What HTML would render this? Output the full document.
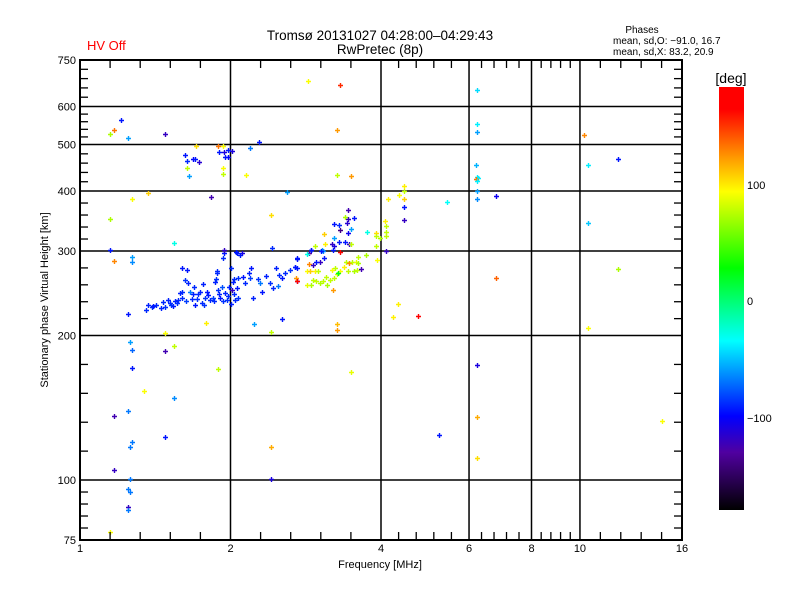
<!DOCTYPE html>
<html><head><meta charset="utf-8"><style>
html,body{margin:0;padding:0;background:#fff;}
svg{display:block;font-family:"Liberation Sans","DejaVu Sans",sans-serif;}
</style></head><body>
<svg id="chart" width="800" height="600" viewBox="0 0 800 600" xmlns="http://www.w3.org/2000/svg">
<rect x="0" y="0" width="800" height="600" fill="#fff"/>
<text x="87" y="50" font-size="13" fill="#ff0000">HV Off</text>
<text x="380" y="40" font-size="13.5" text-anchor="middle">Tromsø 20131027 04:28:00–04:29:43</text>
<text x="380" y="54" font-size="13.5" text-anchor="middle">RwPretec (8p)</text>
<text x="642" y="33" font-size="10" text-anchor="middle">Phases</text>
<text x="613" y="44" font-size="10">mean, sd,O: −91.0, 16.7</text>
<text x="613" y="55" font-size="10">mean, sd,X:  83.2, 20.9</text>
<g id="grid"></g>
<g id="marks"></g>
<g id="frame"></g>
<text x="380" y="568" font-size="11" text-anchor="middle">Frequency [MHz]</text>
<text transform="translate(48,300) rotate(-90)" font-size="11" text-anchor="middle">Stationary phase Virtual Height [km]</text>
<defs><linearGradient id="cbar" x1="0" y1="0" x2="0" y2="1">
<stop offset="0" stop-color="#ff0000"/><stop offset="0.0525" stop-color="#ff0000"/>
<stop offset="0.172" stop-color="#ffa000"/><stop offset="0.247" stop-color="#ffff00"/>
<stop offset="0.428" stop-color="#00ff00"/><stop offset="0.6" stop-color="#00ffff"/>
<stop offset="0.778" stop-color="#0000ff"/><stop offset="0.864" stop-color="#5000a0"/>
<stop offset="1" stop-color="#000000"/></linearGradient></defs>
<rect x="719" y="87" width="25" height="423" fill="url(#cbar)"/>
<text x="731" y="83" font-size="14" text-anchor="middle">[deg]</text>
<text x="747" y="189" font-size="11">100</text>
<text x="747" y="305" font-size="11">0</text>
<text x="747" y="422" font-size="11">−100</text>
</svg>
<script>
const xMajors = [1, 2, 4, 6, 8, 10, 16];
const xTickLabels = ["1", "2", "4", "6", "8", "10", "16"];
const yMajors = [75, 100, 200, 300, 400, 500, 600, 750];
const yTickLabels = ["75", "100", "200", "300", "400", "500", "600", "750"];
const freq = [
1.355,1.368,1.393,1.40,1.465,1.48,1.50,1.513,1.535,1.56,1.57,1.585,1.60,1.62,1.645,1.66,1.675,1.70,1.715,1.74,1.75,1.78,1.795,1.82,1.845,1.86,1.88,1.89,1.906,1.925,1.93,1.95,1.97,2.0,2.01,2.02,2.04,2.06,2.07,2.11,2.14,2.19,2.22,2.29,2.31,2.40,2.43,2.47,2.49,2.53,2.57,2.63,2.69,2.72,2.72,2.42,2.06,
1.6,1.64,1.88,1.94,1.94,2.05,2.09,2.2,
1.42,1.45,1.52,1.55,1.6,1.63,1.68,1.72,1.77,1.8,1.85,1.9,1.93,1.98,2.0,2.03,2.07,1.99,2.03,2.12,2.18,2.27,2.36,2.5,1.87,1.76,1.69,
3.44,3.39,3.53,3.44,3.3,3.22,3.42,3.48,3.31,3.44,3.08,3.22,3.3,3.19,3.39,3.45,3.48,3.09,2.95,3.22,3.2,3.31,3.05,3.06,2.9,3.75,3.9,3.9,3.9,4.07,4.09,4.09,4.09,4.13,4.35,3.98,4.09,3.93,3.74,
2.87,2.85,2.9,3.03,3.08,3.02,2.96,2.87,2.92,2.72,2.69,2.72,2.71,2.72,2.85,2.89,2.95,2.99,2.92,2.97,2.9,2.84,3.06,3.02,3.1,3.19,3.24,3.22,3.26,3.31,3.38,3.41,3.45,3.5,3.57,3.6,3.6,3.43,3.53,3.58,3.65,3.28,3.2,3.12,3.16,
2.86,3.31,1.21,1.17,1.15,1.25,1.48,3.27,2.28,1.71,1.89,1.93,1.9,1.94,2.01,1.98,1.95,1.98,2.19,1.62,1.64,1.68,1.70,1.73,1.64,1.65,1.93,1.93,2.15,3.27,3.48,1.27,1.37,1.83,2.6,1.148,1.54,2.41,1.148,1.17,1.27,1.27,
1.25,1.785,1.48,2.23,2.54,2.41,3.27,3.27,4.23,4.32,1.26,1.27,1.48,1.54,1.27,1.89,3.48,1.34,1.54,1.25,1.17,1.48,1.27,1.26,2.41,1.17,1.26,2.41,1.25,1.26,1.25,1.25,1.148,
6.22,6.22,6.22,10.2,11.9,10.4,6.2,6.22,6.25,6.2,6.22,6.22,6.22,6.8,5.42,4.45,4.45,4.45,4.45,4.45,10.4,11.9,6.8,4.74,10.4,6.22,6.22,5.23,6.22,14.6];
const height = [
226,232,229,230,235,229,237,234,230,234,237,245,246,261,257,246,238,232,238,246,234,239,246,237,240,258,270,249,240,252,290,245,237,277,249,258,237,251,264,297,257,263,240,257,246,257,251,277,254,264,270,274,278,290,260,304,297,
276,274,272,297,301,298,294,276,
232,228,231,236,240,236,244,244,232,243,236,244,236,242,233,244,240,252,262,265,270,262,266,268,262,256,252,
365,353,352,350,340,342,343,334,332,327,325,320,313,311,314,311,310,311,308,308,302,298,302,300,302,328,327,322,308,347,338,328,322,385,392,320,300,288,295,
297,296,301,300,290,285,284,282,281,289,278,277,263,260,272,272,273,273,261,260,255,255,260,257,265,274,277,263,269,273,278,284,283,284,285,292,283,272,273,274,275,270,249,255,261,
678,665,562,536,526,516,526,536,506,497,497,497,482,482,485,487,471,471,492,475,462,466,466,459,447,430,447,434,432,432,430,385,396,388,398,350,312,356,301,286,291,285,
222,212,202,211,216,203,211,205,219,233,194,187,186,190,171,170,168,153,148,139,136,123,120,117,117,105,100.6,100.6,96,94.5,88,86.6,78,
650,552,530,524,466,453,453,428,426,424,420,400,385,390,379,410,400,385,371,348,343,275,264,220,207,174,135,124,111,133];
const phase = [
-90,-92,-88,-95,-90,-88,-92,-90,-95,-88,-90,-92,-90,-88,-92,-70,-90,-95,-88,-92,-90,-88,-95,-90,-85,-92,-90,-88,-95,-80,-90,-92,-88,-90,-120,-92,-90,-95,-88,-110,-90,-85,-92,-70,-95,-88,-90,-92,-70,-95,-90,-88,-90,-95,-92,-90,-92,
-95,-95,-90,-95,-120,-95,-95,-95,
-90,-92,-88,-92,-90,-85,-92,-90,-88,-94,-90,-92,-88,-90,-92,-90,-88,-92,-90,-95,-92,-88,-92,-90,-88,-92,-90,
-125,70,-95,-120,-90,-95,-115,-60,-140,-105,105,-60,-95,-120,-95,-120,75,95,75,-110,-95,165,-60,-65,-95,-30,100,75,75,95,75,75,75,95,90,70,-120,90,70,
-130,-30,-95,-95,-95,-120,-95,125,-120,-95,-95,-95,120,165,90,105,95,75,75,75,70,85,75,70,75,90,75,75,80,90,95,75,125,75,85,75,70,75,70,75,-125,20,120,70,75,
90,150,-95,130,70,-60,-120,120,-95,100,130,90,-95,-110,-110,-95,-95,-100,-70,-95,-90,-100,-95,-115,75,-60,90,75,90,75,120,90,105,-125,-60,70,-30,100,-95,125,-60,-65,
-95,95,90,-60,-95,75,110,120,95,95,-60,-75,-125,75,-95,75,85,90,-65,-70,-125,-95,-70,-70,115,-120,-70,-110,-70,-70,-120,-70,90,
-45,-40,-60,125,-95,-40,-55,-40,-40,130,-40,-60,-65,-105,-35,95,75,105,-95,-120,-50,70,135,170,90,-110,115,-95,100,90];

const X0=80, X1=682, Y0=540, Y1=60;
function xScale(f){ return X0 + (X1-X0)*Math.log(f)/Math.log(16); }
function yScale(h){ return Y0 - (Y0-Y1)*Math.log(h/75)/Math.log(10); }
const cStops=[[-180,[0,0,0]],[-131,[80,0,160]],[-100,[0,0,255]],[-36,[0,255,255]],[26,[0,255,0]],[91,[255,255,0]],[118,[255,160,0]],[161,[255,0,0]],[180,[255,0,0]]];
function color(p){
  for(let i=1;i<cStops.length;i++){ if(p<=cStops[i][0]){ const a=cStops[i-1],b=cStops[i]; const t=(p-a[0])/(b[0]-a[0]);
    const c=a[1].map((v,k)=>Math.round(v+(b[1][k]-v)*t)); return 'rgb('+c.join(',')+')'; } }
  return 'rgb(255,0,0)';
}
const NS='http://www.w3.org/2000/svg';
const grid=document.getElementById('grid'), frame=document.getElementById('frame'), marks=document.getElementById('marks');
function line(g,x1,y1,x2,y2,w,name){ const l=document.createElementNS(NS,'line');
  l.setAttribute('x1',x1);l.setAttribute('y1',y1);l.setAttribute('x2',x2);l.setAttribute('y2',y2);
  l.setAttribute('stroke','#000');l.setAttribute('stroke-width',w);
  
  
  g.appendChild(l); }
function text(x,y,s,anchor,name){ const t=document.createElementNS(NS,'text');
  t.setAttribute('x',x);t.setAttribute('y',y);t.setAttribute('font-size','11');t.setAttribute('text-anchor',anchor);t.textContent=s;
  
  
  frame.appendChild(t); }
xMajors.forEach((v,i)=>{ const x=xScale(v);
  if(i>0&&i<xMajors.length-1) line(grid,x,Y1,x,Y0,1.5,'x-grid-line');
  text(x,552,xTickLabels[i],'middle','x-tick-label');
  if(i<xMajors.length-1){ const x2=xScale(xMajors[i+1]); for(let k=1;k<5;k++){ const xm=x+(x2-x)*k/5;
    line(frame,xm,Y0,xm,Y0-8,1.3,'x-minor-tick'); line(frame,xm,Y1,xm,Y1+8,1.3,'x-minor-tick'); } }
});
yMajors.forEach((v,i)=>{ const y=yScale(v);
  if(i>0&&i<yMajors.length-1) line(grid,X0,y,X1,y,1.5,'y-grid-line');
  text(76,y+4,yTickLabels[i],'end','y-tick-label');
  if(i<yMajors.length-1){ const y2=yScale(yMajors[i+1]); for(let k=1;k<5;k++){ const ym=y+(y2-y)*k/5;
    line(frame,X0,ym,X0+8,ym,1.3,'y-minor-tick'); line(frame,X1,ym,X1-8,ym,1.3,'y-minor-tick'); } }
});
const fr=document.createElementNS(NS,'rect');
fr.setAttribute('x',X0);fr.setAttribute('y',Y1);fr.setAttribute('width',X1-X0);fr.setAttribute('height',Y0-Y1);
fr.setAttribute('fill','none');fr.setAttribute('stroke','#000');fr.setAttribute('stroke-width','2');


frame.appendChild(fr);
for(let i=0;i<freq.length;i++){
  const x=Math.round(xScale(freq[i])), y=Math.round(yScale(height[i])), c=color(phase[i]);
  const p=document.createElementNS(NS,'path');
  p.setAttribute('d','M'+(x-2)+' '+(y+0.5)+'h5M'+(x+0.5)+' '+(y-2)+'v5');
  p.setAttribute('stroke',c);p.setAttribute('stroke-width','1.4');p.setAttribute('fill','none');
  
  
  marks.appendChild(p);
}
</script>
</body></html>
